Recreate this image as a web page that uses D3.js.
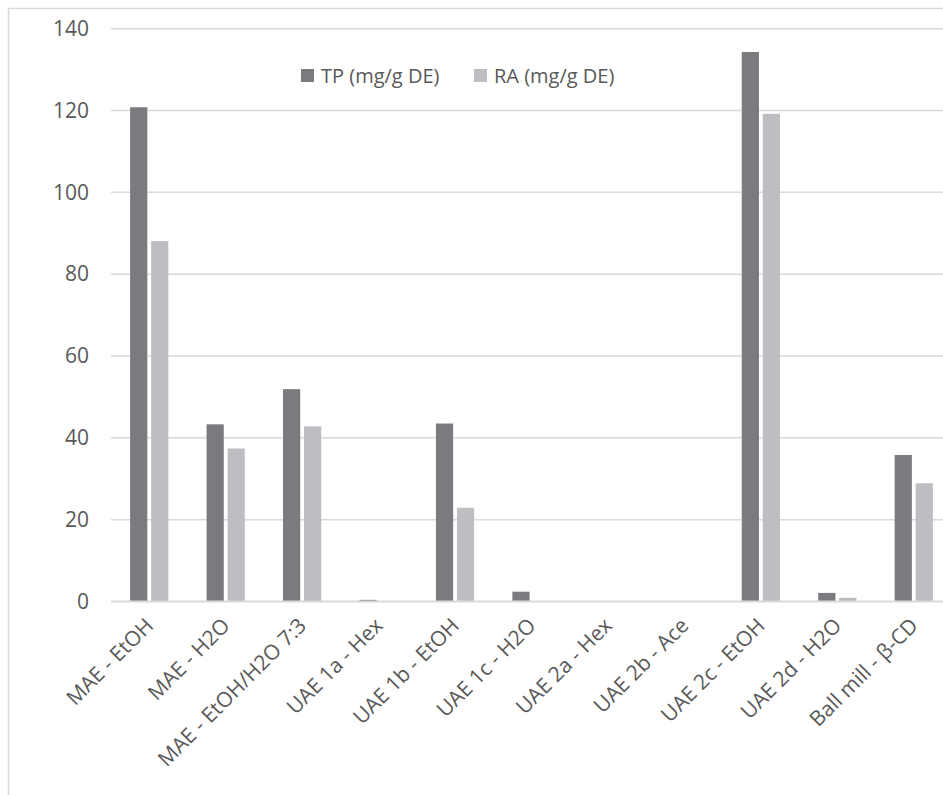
<!DOCTYPE html>
<html>
<head>
<meta charset="utf-8">
<script src="https://cdn.jsdelivr.net/npm/d3@7"></script>
<style>
  html, body { margin: 0; padding: 0; background: #ffffff; }
  svg { display: block; }
  text { font-family: "Open Sans", "Liberation Sans", sans-serif; fill: #595959; }
</style>
</head>
<body>
<svg id="chart" width="943" height="795"></svg>
<script>
// Extraction methods
const categories = [
  "MAE - EtOH", "MAE - H2O", "MAE - EtOH/H2O 7:3", "UAE 1a - Hex",
  "UAE 1b - EtOH", "UAE 1c - H2O", "UAE 2a - Hex", "UAE 2b - Ace",
  "UAE 2c - EtOH", "UAE 2d - H2O", "Ball mill - β-CD"
];
// Total polyphenols and rosmarinic acid, mg/g dry extract
const tpValues = [120.8, 43.3, 51.9, 0.4, 43.5, 2.4, 0, 0, 134.3, 2.1, 35.8];
const raValues = [88.1, 37.4, 42.8, 0, 22.9, 0, 0, 0, 119.2, 0.9, 28.9];
const seriesNames = ["TP (mg/g DE)", "RA (mg/g DE)"];
const yTicks = [0, 20, 40, 60, 80, 100, 120, 140];

const seriesColors = ["#7a7b7f", "#bdbec2"];

const svg = d3.select("#chart");

// chart frame
svg.append("rect")
  .attr("x", 8.5).attr("y", 8.5)
  .attr("width", 960).attr("height", 800)
  .attr("fill", "none").attr("stroke", "#d9d9d9").attr("stroke-width", 1.5);

const plot = { left: 111, right: 952, top: 28.7, bottom: 601.5 };

const x = d3.scaleBand()
  .domain(categories)
  .range([plot.left, plot.right])
  .paddingInner(0).paddingOuter(0);

const y = d3.scaleLinear()
  .domain([0, 140])
  .range([plot.bottom, plot.top]);

const barW = x.bandwidth() * 0.225;
const barGap = x.bandwidth() * 0.05;

// horizontal gridlines
svg.append("g")
  .selectAll("line")
  .data(yTicks.filter(d => d > 0))
  .join("line")
  .attr("x1", plot.left).attr("x2", plot.right)
  .attr("y1", d => y(d)).attr("y2", d => y(d))
  .attr("stroke", "#d9d9d9").attr("stroke-width", 1.5);

// y axis tick labels
const yAxis = d3.axisLeft(y).tickValues(yTicks).tickSize(0).tickPadding(0);
const yg = svg.append("g")
  .attr("transform", `translate(${plot.left - 22},0)`)
  .call(yAxis);
yg.select(".domain").remove();
yg.selectAll("text")
  .attr("font-size", 21)
  .attr("fill", "#595959")
  .style("font-family", "'Open Sans', sans-serif");

// bars
const series = [tpValues, raValues];
series.forEach((vals, si) => {
  svg.append("g")
    .selectAll("rect")
    .data(categories.map((c, i) => ({ c, v: vals[i] })))
    .join("rect")
    .attr("x", d => x(d.c) + x.bandwidth() / 2 - barW - barGap / 2 + si * (barW + barGap))
    .attr("width", barW)
    .attr("y", d => y(d.v))
    .attr("height", d => y(0) - y(d.v))
    .attr("fill", seriesColors[si]);
});

// baseline
svg.append("line")
  .attr("x1", plot.left).attr("x2", plot.right)
  .attr("y1", y(0)).attr("y2", y(0))
  .attr("stroke", "#d9d9d9").attr("stroke-width", 2);

// category labels, rotated
const xAxis = d3.axisBottom(x).tickSize(0).tickPadding(0);
const xg = svg.append("g")
  .attr("transform", `translate(0,${plot.bottom})`)
  .call(xAxis);
xg.select(".domain").remove();
xg.selectAll("text")
  .attr("font-size", 21)
  .attr("fill", "#595959")
  .style("font-family", "'Open Sans', sans-serif")
  .attr("text-anchor", "end")
  .attr("dy", null)
  .attr("transform", "translate(-7,13) rotate(-45)")
  .attr("y", 0).attr("x", 0)
  .attr("dominant-baseline", "hanging");

// legend
const legendItems = [
  { name: seriesNames[0], color: seriesColors[0], x: 301 },
  { name: seriesNames[1], color: seriesColors[1], x: 474 }
];
const lg = svg.append("g");
legendItems.forEach(it => {
  lg.append("rect")
    .attr("x", it.x).attr("y", 69)
    .attr("width", 13).attr("height", 13)
    .attr("fill", it.color);
  lg.append("text")
    .attr("x", it.x + 20).attr("y", 83)
    .attr("font-size", 20)
    .attr("fill", "#595959")
    .text(it.name);
});
</script>
</body>
</html>
